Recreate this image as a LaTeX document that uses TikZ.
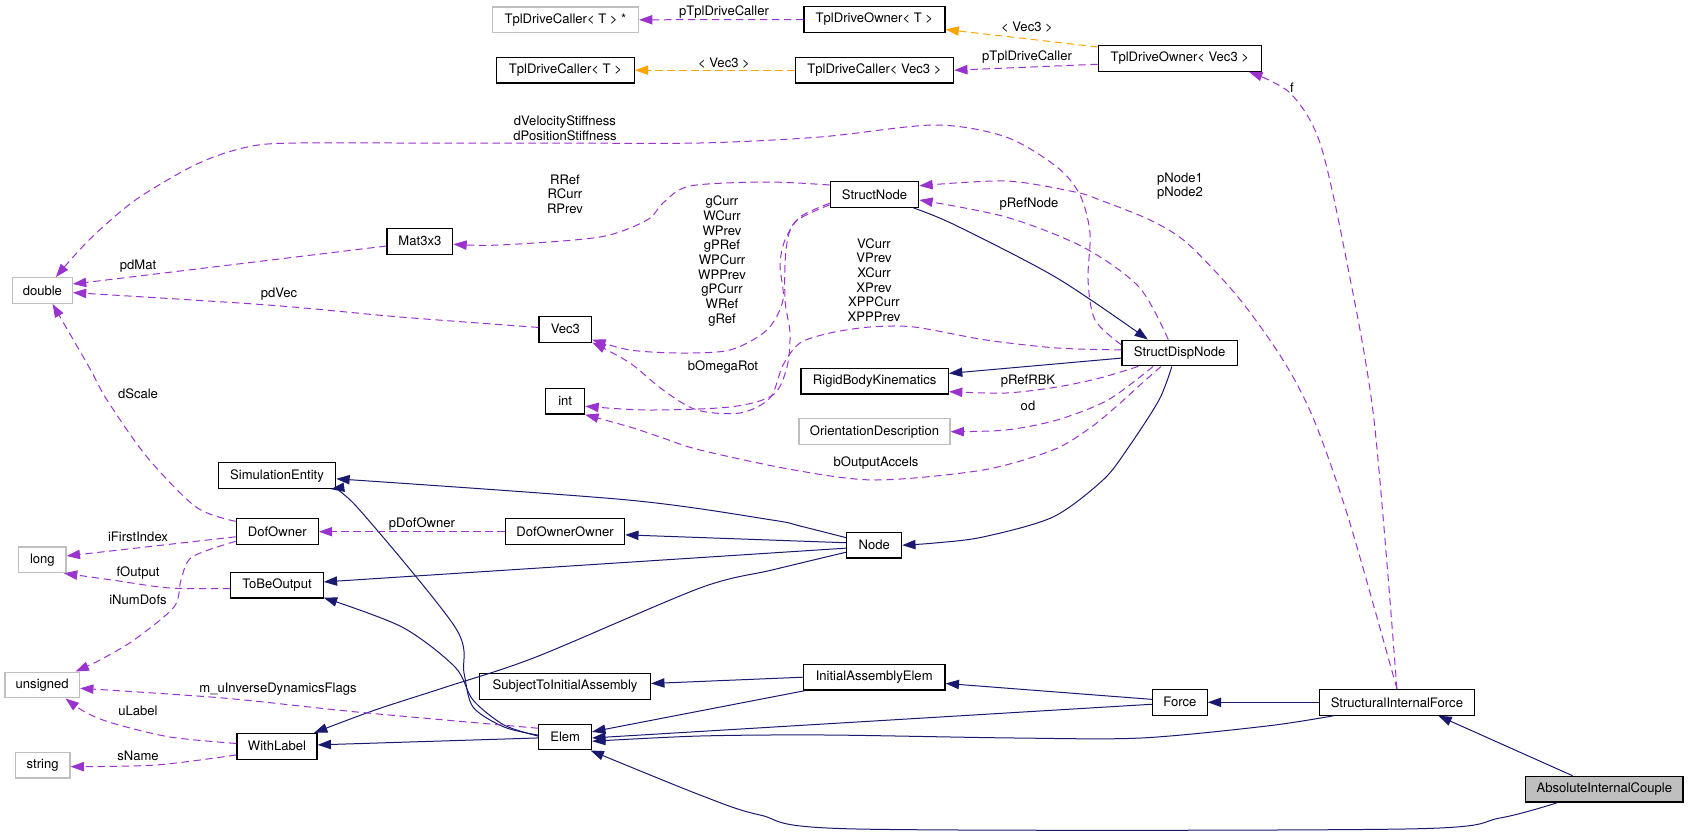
\documentclass[tikz,border=0pt]{standalone}
\usepackage{fontspec}
\setmainfont{TeX Gyre Heros}
\usetikzlibrary{arrows.meta}
\definecolor{pur}{HTML}{9A32CD}
\definecolor{nav}{HTML}{191970}
\definecolor{org}{HTML}{FFA500}
\definecolor{gbord}{HTML}{BFBFBF}
\begin{document}
\begin{tikzpicture}[x=0.75pt,y=-0.75pt,
  cls/.style={draw=black, line width=0.9pt, inner sep=0pt, minimum height=19.3pt, font=\fontsize{9.8}{11}\selectfont, fill=white},
  ext/.style={cls, draw=gbord},
  wd/.style={minimum width=#1*0.75pt},
  lbl/.style={inner sep=0pt, align=center, font=\fontsize{9.8}{11}\selectfont},
  use/.style={draw=pur, line width=0.75pt, dash pattern=on 5.5pt off 3.5pt, -{Triangle[length=10pt,width=7pt]}},
  tpl/.style={draw=org, line width=0.75pt, dash pattern=on 5.5pt off 3.5pt, -{Triangle[length=10pt,width=7pt]}},
  inh/.style={draw=nav, line width=0.75pt, -{Triangle[length=10pt,width=7pt]}}
]
\useasboundingbox (0,0) rectangle (1688,835);

% nodes
\node[ext, wd=146.3] (tdcTs) at (565.4,19.8) {TplDriveCaller< T > *};
\node[cls, wd=141] (tdoT) at (874.4,19.5) {TplDriveOwner< T >};
\node[cls, wd=137.7] (tdcT) at (565.4,70.2) {TplDriveCaller< T >};
\node[cls, wd=158.3] (tdcV) at (874.4,70.2) {TplDriveCaller< Vec3 >};
\node[cls, wd=163] (tdoV) at (1179.8,58.5) {TplDriveOwner< Vec3 >};
\node[ext, wd=59.8] (dbl) at (42.4,290.5) {double};
\node[cls, wd=65.7] (mat) at (419.9,241.3) {Mat3x3};
\node[cls, wd=52.7] (vec) at (565.3,329.3) {Vec3};
\node[cls, wd=39] (int) at (565.2,401.2) {int};
\node[cls, wd=88.4] (sn) at (874.5,194.5) {StructNode};
\node[cls, wd=115.2] (sdn) at (1179.6,353) {StructDispNode};
\node[cls, wd=147.4] (rbk) at (874.7,381.2) {RigidBodyKinematics};
\node[ext, wd=151] (od) at (874.5,431.7) {OrientationDescription};
\node[cls, wd=117.4] (se) at (277,475.7) {SimulationEntity};
\node[cls, wd=82] (dof) at (277.3,531.7) {DofOwner};
\node[cls, wd=119.2] (doo) at (565,531.7) {DofOwnerOwner};
\node[ext, wd=47.3] (lng) at (42.4,559.8) {long};
\node[cls, wd=92.4] (tbo) at (277,585.2) {ToBeOutput};
\node[cls, wd=54.8] (nd) at (874.2,545.2) {Node};
\node[ext, wd=74.6] (uns) at (42.2,685) {unsigned};
\node[cls, wd=171] (stia) at (565,686.5) {SubjectToInitialAssembly};
\node[cls, wd=141.7] (iae) at (874.2,677.2) {InitialAssemblyElem};
\node[cls, wd=52.7] (elem) at (565.2,737) {Elem};
\node[cls, wd=80] (wl) at (277,746.3) {WithLabel};
\node[ext, wd=54.8] (str) at (42.6,765.2) {string};
\node[cls, wd=54.8] (force) at (1179.8,702.3) {Force};
\node[cls, wd=155] (sif) at (1396.9,702.3) {StructuralInternalForce};
\node[cls, wd=157.5, fill=gbord] (aic) at (1604.3,789.2) {AbsoluteInternalCouple};

% top template edges
\draw[use] (tdoT.west) -- (tdcTs.east);
\draw[tpl] (tdoV.172) -- (tdoT.-8);
\draw[tpl] (tdcV.west) -- (tdcT.east);
\draw[use] (tdoV.184) -- (tdcV.east);
\draw[use] plot[smooth] coordinates {(sif.north) (1374,420) (1347,263) (1320,143) (1290,93) (tdoV.-11)};

% structural node edges
\draw[use] plot[smooth] coordinates {(sif.north) (1349,520) (1314,420) (1283,360) (1238,297) (1187,243) (1150,220) (1100,200) (1075,192) (1006,181) (sn.11)};
\draw[use] plot[smooth] coordinates {(sdn.130) (1139,287) (1083,247) (1006,217) (sn.-7)};
\draw[use] plot[smooth] coordinates {(sdn.172) (1095,320) (1088,280) (1090,233) (1080,195) (1057,167) (1006,137) (935,125) (820,137) (700,143) (550,143) (400,143) (300,143) (258,145) (222,154) (187,169) (134,201) (89,240) (dbl.45)};
\draw[use] plot[smooth] coordinates {(sn.168) (767,182) (690,186) (663,203) (647,220) (600,237) (500,245) (mat.-5)};
\draw[use] plot[smooth] coordinates {(sn.191) (800,217) (785,240) (780,265) (783,300) (767,330) (730,350) (680,353) (630,350) (vec.-21)};
\draw[use] plot[smooth] coordinates {(sn.193) (795,222) (786,250) (785,300) (790,333) (787,367) (773,395) (730,407) (647,410) (int.-14)};
\draw[use] plot[smooth] coordinates {(sdn.177) (1057,348) (986,340) (914,327) (870,327) (830,333) (800,343) (783,365) (770,398) (740,413) (697,410) (663,390) (630,363) (vec.-26)};
\draw[use] plot[smooth] coordinates {(sdn.-144) (1140,385) (1118,405) (1090,428) (1053,450) (983,470) (876,480) (794,470) (700,450) (663,438) (630,427) (int.-34)};
\draw[use] plot[smooth] coordinates {(sdn.198) (1100,378) (1057,387) (1006,393) (rbk.-8)};
\draw[use] plot[smooth] coordinates {(sdn.207) (1108,400) (1057,420) (1006,430) (od.east)};

% inheritance edges
\draw[inh] plot[smooth] coordinates {(sn.-19) (955,225) (1057,278) (sdn.157)};
\draw[inh] (sdn.185) -- (rbk.6);
\draw[inh] plot[smooth] coordinates {(sdn.240) (1159,400) (1128,448) (1103,480) (1053,517) (983,537) (935,543) (nd.east)};
\draw[inh] plot[smooth] coordinates {(nd.165) (800,526) (772,520) (628,500) (se.-3)};
\draw[inh] (nd.175) -- (doo.-3);
\draw[inh] (nd.186) -- (tbo.4);
\draw[inh] plot[smooth] coordinates {(nd.194) (772,570) (700,588) (536,657) (446,687) (375,710) (wl.20)};
\draw[inh] plot[smooth] coordinates {(elem.176) (504,727) (473,707) (464,673) (455,627) (357,507) (se.-14)};
\draw[inh] plot[smooth] coordinates {(elem.178) (504,725) (473,700) (455,667) (402,627) (tbo.-15)};
\draw[inh] (elem.182) -- (wl.2);
\draw[inh] (iae.west) -- (stia.2);
\draw[inh] (iae.191) -- (elem.11);
\draw[inh] (force.174) -- (iae.-5);
\draw[inh] (force.184) -- (elem.-2);
\draw[inh] (sif.west) -- (force.east);
\draw[inh] plot[smooth] coordinates {(sif.192) (1267,726) (1141,738) (1015,738) (826,735) (700,736) (elem.-9)};
\draw[inh] (aic.157) -- (sif.-18);
\draw[inh] plot[smooth] coordinates {(aic.196) (1500,818) (1405,829) (857,829) (760,815) (700,795) (elem.-28)};

% left side usage edges
\draw[use] (mat.188) -- (dbl.12);
\draw[use] plot[smooth] coordinates {(vec.176) (400,317) (268,305) (dbl.-4)};
\draw[use] plot[smooth] coordinates {(dof.166) (196,507) (147,457) (107,400) (89,367) (dbl.-53)};
\draw[use] (dof.187) -- (lng.9);
\draw[use] plot[smooth] coordinates {(dof.193) (192,557) (181,580) (174,607) (134,640) (100,660) (uns.22)};
\draw[use] plot[smooth] coordinates {(tbo.184) (170,588) (112,580) (lng.-32)};
\draw[use] plot[smooth] coordinates {(elem.162) (357,712) (223,698) (uns.-5)};
\draw[use] plot[smooth] coordinates {(wl.176) (170,737) (112,723) (85,712) (uns.-30)};
\draw[use] plot[smooth] coordinates {(wl.192) (156,765) (str.-3)};
\draw[use] (doo.west) -- (dof.east);

% labels
\node[lbl] (l1) at (724,12) {pTplDriveCaller};
\node[lbl] (l2) at (1027,27) {< Vec3 >};
\node[lbl] (l3) at (724,63) {< Vec3 >};
\node[lbl] (l4) at (1027,57) {pTplDriveCaller};
\node[lbl] (l5) at (1292,88) {f};
\node[lbl] (l6) at (565,128) {dVelocityStiffness\\dPositionStiffness};
\node[lbl] (l7) at (565,194) {RRef\\RCurr\\RPrev};
\node[lbl] (l8) at (722,261) {gCurr\\WCurr\\WPrev\\gPRef\\WPCurr\\WPPrev\\gPCurr\\WRef\\gRef};
\node[lbl] (l9) at (874,280) {VCurr\\VPrev\\XCurr\\XPrev\\XPPCurr\\XPPPrev};
\node[lbl] (l10) at (1180,186) {pNode1\\pNode2};
\node[lbl] (l11) at (1029,204) {pRefNode};
\node[lbl] (l12) at (723,367) {bOmegaRot};
\node[lbl] (l13) at (1028,381) {pRefRBK};
\node[lbl] (l14) at (1028,406) {od};
\node[lbl] (l15) at (876,463) {bOutputAccels};
\node[lbl] (l16) at (138,266) {pdMat};
\node[lbl] (l17) at (279,294) {pdVec};
\node[lbl] (l18) at (138,394) {dScale};
\node[lbl] (l19) at (138,537) {iFirstIndex};
\node[lbl] (l20) at (138,573) {fOutput};
\node[lbl] (l21) at (138,600) {iNumDofs};
\node[lbl] (l22) at (278,689) {m\_uInverseDynamicsFlags};
\node[lbl] (l23) at (138,711) {uLabel};
\node[lbl] (l24) at (138,756) {sName};
\node[lbl] (l25) at (422,524) {pDofOwner};
\end{tikzpicture}
\end{document}
